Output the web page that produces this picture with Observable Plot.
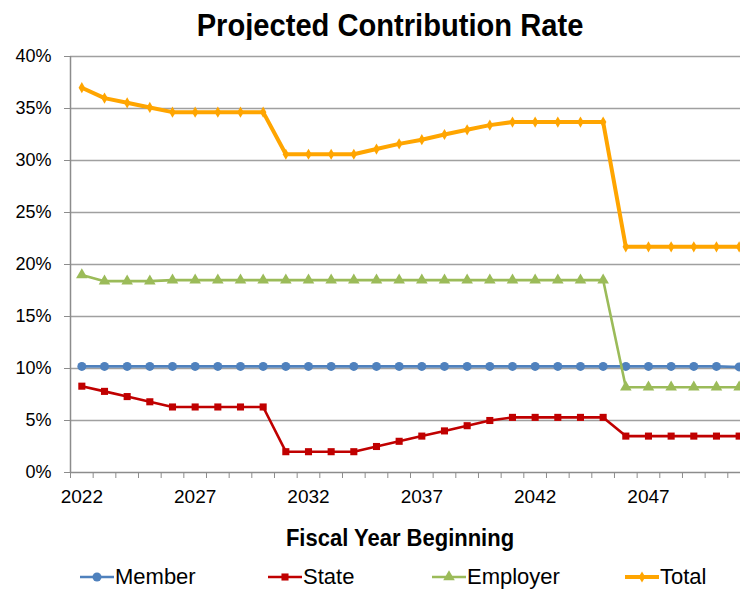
<!DOCTYPE html>
<html><head><meta charset="utf-8">
<script src="https://cdn.jsdelivr.net/npm/d3@7"></script>
<script src="https://cdn.jsdelivr.net/npm/@observablehq/plot@0.6"></script>
<style>
body{margin:0;width:740px;height:591px;overflow:hidden;background:#fff;font-family:"Liberation Sans",Arial,sans-serif;position:relative;color:#000}
#title{position:absolute;top:7px;left:0;width:780px;text-align:center;font-weight:bold;font-size:32px;line-height:36px;transform:scaleX(0.91);transform-origin:390px 0}
#chart{position:absolute;top:40px;left:0}
#xtitle{position:absolute;top:525px;left:0;width:800px;text-align:center;font-weight:bold;font-size:22px;line-height:26px;transform:scaleY(1.12)}
#legend{position:absolute;top:564px;left:0;width:740px;height:26px}
.item{position:absolute;top:0;display:flex;align-items:center;font-size:22px;line-height:26px;white-space:nowrap}
.item svg{margin-right:1px}
</style></head>
<body>
<div id="title">Projected Contribution Rate</div>
<div id="chart"></div>
<div id="xtitle">Fiscal Year Beginning</div>
<div id="legend"></div>
<script>
const years = [2022,2023,2024,2025,2026,2027,2028,2029,2030,2031,2032,2033,2034,2035,2036,2037,2038,2039,2040,2041,2042,2043,2044,2045,2046,2047,2048,2049,2050,2051];
const member = [10.2,10.2,10.2,10.2,10.2,10.2,10.2,10.2,10.2,10.2,10.2,10.2,10.2,10.2,10.2,10.2,10.2,10.2,10.2,10.2,10.2,10.2,10.2,10.2,10.2,10.2,10.2,10.2,10.2,10.15];
const state = [8.3,7.8,7.3,6.8,6.3,6.3,6.3,6.3,6.3,2.0,2.0,2.0,2.0,2.5,3.0,3.5,4.0,4.5,5.0,5.3,5.3,5.3,5.3,5.3,3.5,3.5,3.5,3.5,3.5,3.5];
const employer = [19.0,18.4,18.4,18.4,18.5,18.5,18.5,18.5,18.5,18.5,18.5,18.5,18.5,18.5,18.5,18.5,18.5,18.5,18.5,18.5,18.5,18.5,18.5,18.5,8.2,8.2,8.2,8.2,8.2,8.2];
const total = [37.0,36.0,35.55,35.1,34.65,34.65,34.65,34.65,34.65,30.6,30.6,30.6,30.6,31.1,31.6,32.0,32.5,32.95,33.4,33.7,33.7,33.7,33.7,33.7,21.7,21.7,21.7,21.7,21.7,21.7];
const seriesNames = ["Member","State","Employer","Total"];
const seriesColors = ["#4f81bd","#c00000","#9bbb59","#ffa500"];
const seriesSymbols = ["circle","square","triangle","diamond"];
const yTicks = [0,5,10,15,20,25,30,35,40];
const xLabelTicks = [2022,2027,2032,2037,2042,2047];
const xBoundaries = [2021.5,2022.5,2023.5,2024.5,2025.5,2026.5,2027.5,2028.5,2029.5,2030.5,2031.5,2032.5,2033.5,2034.5,2035.5,2036.5,2037.5,2038.5,2039.5,2040.5,2041.5,2042.5,2043.5,2044.5,2045.5,2046.5,2047.5,2048.5,2049.5,2050.5];

const seriesValues = [member, state, employer, total];
const rows = [];
seriesNames.forEach((s, i) => years.forEach((y, j) => rows.push({series: s, year: y, value: seriesValues[i][j]})));
const lineWidths = {Member: 2.6, State: 2.6, Employer: 2.6, Total: 4};
const symR = {Member: 4.5, State: 4, Employer: 4.3, Total: 3.4};

const marks = [
  Plot.ruleY(yTicks.filter(d => d > 0), {stroke: "#a0a0a0", strokeWidth: 1.5}),
  Plot.ruleX([2021.5], {stroke: "#8c8c8c", strokeWidth: 1.5}),
  Plot.ruleY([0], {stroke: "#8c8c8c", strokeWidth: 1.5}),
  Plot.axisY({ticks: yTicks, tickFormat: d => d + "%", tickSize: 6, tickPadding: 13, fontSize: 18, label: null, stroke: "#8c8c8c"}),
  Plot.axisX({ticks: xBoundaries, tickFormat: () => "", tickSize: 6, label: null, stroke: "#8c8c8c"}),
  Plot.axisX({ticks: xLabelTicks, tickFormat: d => String(d), tickSize: 0, tickPadding: 17, fontSize: 19, label: null})
];
seriesNames.forEach((s, i) => {
  const data = rows.filter(r => r.series === s);
  marks.push(Plot.line(data, {x: "year", y: "value", stroke: seriesColors[i], strokeWidth: lineWidths[s], strokeLinejoin: "round"}));
  marks.push(Plot.dot(data, {x: "year", y: "value", symbol: () => seriesSymbols[i], fill: seriesColors[i], stroke: "none", r: symR[s]}));
});

const chart = Plot.plot({
  width: 740,
  height: 480,
  marginLeft: 70,
  marginRight: 0,
  marginTop: 16,
  marginBottom: 48,
  style: {fontFamily: "Liberation Sans, Arial, sans-serif", fontSize: "18px", color: "#000", background: "#fff", overflow: "visible"},
  x: {type: "linear", domain: [2021.5, 2051.06], axis: null},
  y: {domain: [0, 40], axis: null},
  symbol: {type: "identity"},
  marks
});
document.getElementById("chart").appendChild(chart);

// legend
const legend = document.getElementById("legend");
const legendLeft = [80, 268, 432, 625];
seriesNames.forEach((s, i) => {
  const div = document.createElement("div");
  div.className = "item";
  div.style.left = legendLeft[i] + "px";
  const sw = d3.create("svg").attr("width", 34).attr("height", 20);
  sw.append("line").attr("x1", 0).attr("x2", 34).attr("y1", 10).attr("y2", 10)
    .attr("stroke", seriesColors[i]).attr("stroke-width", lineWidths[s]);
  const sym = d3.symbol().type({circle: d3.symbolCircle, square: d3.symbolSquare, triangle: d3.symbolTriangle, diamond: d3.symbolDiamond}[seriesSymbols[i]]).size(Math.PI * symR[s] * symR[s]);
  sw.append("path").attr("d", sym()).attr("transform", "translate(17,10)").attr("fill", seriesColors[i]);
  div.appendChild(sw.node());
  const t = document.createElement("span");
  t.textContent = s;
  div.appendChild(t);
  legend.appendChild(div);
});
</script>
</body></html>
